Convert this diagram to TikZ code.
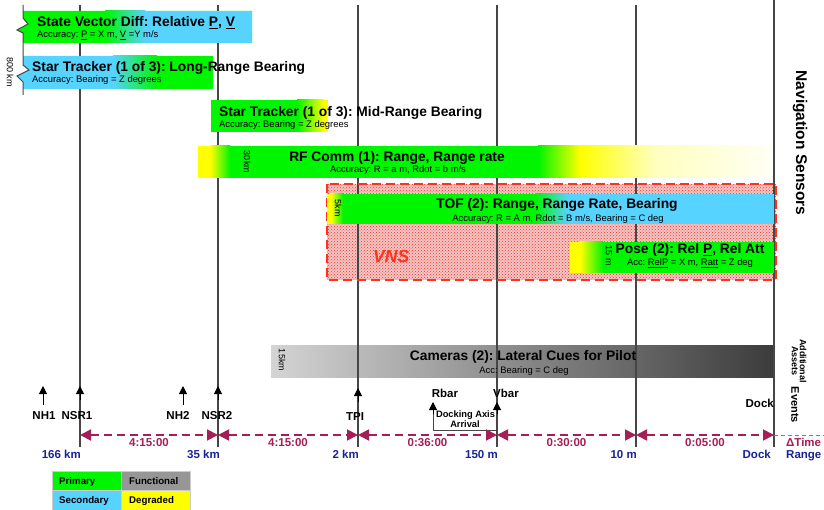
\documentclass[tikz,border=0pt]{standalone}
\usepackage{fontspec}
\setmainfont{Liberation Sans}
\usetikzlibrary{arrows.meta,patterns}
\definecolor{pgreen}{RGB}{0,245,0}
\definecolor{sblue}{RGB}{87,211,255}
\definecolor{dyel}{RGB}{255,255,0}
\definecolor{fgray}{RGB}{150,150,150}
\definecolor{tlmaroon}{RGB}{165,30,85}
\definecolor{rblue}{RGB}{25,35,150}
\definecolor{vnsred}{RGB}{255,50,30}
\definecolor{vnsbg}{RGB}{242,198,198}
\definecolor{vline}{RGB}{70,70,70}
\definecolor{camL}{RGB}{212,212,212}
\definecolor{camR}{RGB}{60,60,60}
\newcommand\fsz[1]{\fontsize{#1}{#1}\selectfont}
\frenchspacing
\tikzset{
 ttl/.style={font=\fsz{13.8}\bfseries, inner sep=0pt},
 acc/.style={font=\fsz{9.4}, inner sep=0pt},
 rotlbl/.style={font=\fsz{9}, inner sep=0pt, rotate=-90},
 evlbl/.style={font=\fsz{11.5}\bfseries, inner sep=0pt, anchor=base},
 timlbl/.style={font=\fsz{11.5}\bfseries, text=tlmaroon, inner sep=0pt, anchor=base},
 rnglbl/.style={font=\fsz{11.5}\bfseries, text=rblue, inner sep=0pt, anchor=base east},
 vl/.style={draw=vline, line width=1.1pt},
 tline/.style={draw=tlmaroon, line width=1.8pt, dash pattern=on 8pt off 5pt, {Triangle[width=11pt,length=11pt]}-{Triangle[width=11pt,length=11pt]}},
 evarrow/.style={draw=black, line width=1pt, -{Triangle[width=8pt,length=8pt]}},
 legcell/.style={draw=gray!40, line width=0.6pt},
 legt/.style={font=\fsz{9.7}\bfseries, inner sep=0pt, anchor=base west},
}
\begin{document}
\begin{tikzpicture}[x=1pt,y=-1pt]
\useasboundingbox (0,0) rectangle (824,510);
\fill[white] (0,0) rectangle (824,510);

% VNS region background
\fill[vnsbg] (327,184) rectangle (776,280);
\fill[pattern=crosshatch dots, pattern color=vnsred] (327,184) rectangle (776,280);

% Cameras bar (under the lines)
\shade[left color=camL, right color=camR] (271,345) rectangle (773,377);

% vertical event lines
\foreach \n/\x in {1/80,2/218,3/358,4/497,5/636}{
  \coordinate (top\n) at (\x,5);
  \coordinate (bot\n) at (\x,447);
  \draw[vl] (top\n) -- (bot\n);
}
\coordinate (top6) at (774,0);
\coordinate (bot6) at (774,447);
\draw[vl] (top6) -- (bot6);

% Bar 1: State Vector Diff
\fill[pgreen] (23,11) -- (252,11) -- (252,43) -- (23,43) -- (23,33) -- (17,30) -- (28,24) -- (23,18) -- cycle;
\shade[left color=pgreen, right color=sblue] (105,11) rectangle (145,43);
\fill[sblue] (145,11) rectangle (252,43);
\node[ttl, anchor=base west] (sv) at (37,27) {State Vector Diff: Relative \underline{P}, \underline{V}};
\node[acc, anchor=base west] (sva) at (37,37.5) {Accuracy: \underline{P} = X m, \underline{V} =Y m/s};

% Bar 2: Star Tracker long range
\fill[sblue] (23,56) -- (213,56) -- (213,89) -- (23,89) -- (23,82) -- (17,76) -- (29,70) -- (23,65) -- cycle;
\shade[left color=sblue, right color=pgreen] (113,56) rectangle (157,89);
\fill[pgreen] (157,56) rectangle (213,89);
\node[ttl, anchor=base west] (stl) at (32,72) {Star Tracker (1 of 3): Long-Range Bearing};
\node[acc, anchor=base west] (stla) at (32,82.5) {Accuracy: Bearing = Z degrees};
\node[rotlbl] (km800) at (10,72) {800 km};

% left bracket with breaks
\draw[vl, line width=1pt] (23,5) -- (23,18) -- (28,24) -- (17,30) -- (23,33) -- (23,65) -- (29,70) -- (17,76) -- (23,82) -- (23,95);

% Bar 3: Star Tracker mid range
\fill[pgreen] (211,100) rectangle (297,132);
\shade[left color=pgreen, right color=dyel] (297,100) rectangle (324,132);
\fill[dyel] (324,100) rectangle (328,132);
\node[ttl, anchor=base west] (stm) at (219,117) {Star Tracker (1 of 3): Mid-Range Bearing};
\node[acc, anchor=base west] (stma) at (219,127.5) {Accuracy: Bearing = Z degrees};

% Bar 4: RF Comm
\fill[dyel] (198,146) rectangle (210,178);
\shade[left color=dyel, right color=pgreen] (210,146) rectangle (230,178);
\fill[pgreen] (230,146) rectangle (538,178);
\shade[left color=pgreen, right color=dyel] (538,146) rectangle (580,178);
\shade[left color=dyel, right color=dyel!25] (580,146) rectangle (655,178);
\shade[left color=dyel!25, right color=dyel!4] (655,146) rectangle (772,178);
\node[ttl, anchor=base] (rf) at (397,162) {RF Comm (1): Range, Range rate};
\node[acc, anchor=base] (rfa) at (398,173) {Accuracy: R = a m, Rdot = b m/s};
\node[rotlbl] (km30) at (247,162) {30km};

% VNS dashed border
\draw[vnsred, line width=2.6pt, dash pattern=on 9pt off 5pt] (327,184) rectangle (776,280);

% Bar 5: TOF
\fill[dyel] (327,194) rectangle (331,224);
\shade[left color=dyel, right color=pgreen] (331,194) rectangle (343,224);
\fill[pgreen] (343,194) rectangle (535,224);
\shade[left color=pgreen, right color=sblue] (535,194) rectangle (568,224);
\fill[sblue] (568,194) rectangle (774,224);
\node[ttl, anchor=base] (tof) at (557,209) {TOF (2): Range, Range Rate, Bearing};
\node[acc, anchor=base] (tofa) at (558,222) {Accuracy: R = A m, Rdot = B m/s, Bearing = C deg};
\node[rotlbl] (km5) at (338,208) {5km};

% Bar 6: Pose
\fill[dyel] (570,242) rectangle (580,273);
\shade[left color=dyel, right color=pgreen] (580,242) rectangle (603,273);
\fill[pgreen] (603,242) rectangle (774,273);
\node[ttl, anchor=base] (pose) at (690,254) {Pose (2): Rel \underline{P}, Rel Att};
\node[acc, anchor=base] (posea) at (690,266) {Acc: \underline{RelP} = X m, \underline{Ratt} = Z deg};
\node[rotlbl] (m15) at (609,256) {15 m};

% VNS label
\node[font=\fsz{17.5}\bfseries\itshape, text=vnsred, inner sep=0pt, anchor=base west] (vns) at (373,263) {VNS};

% Cameras text
\node[ttl, anchor=base] (cam) at (523,360) {Cameras (2): Lateral Cues for Pilot};
\node[acc, anchor=base] (cama) at (524,373) {Acc: Bearing = C deg};
\node[rotlbl] (km15) at (282,360) {15km};

% right side labels
\node[font=\fsz{15.5}\bfseries, rotate=-90, inner sep=0pt] (nav) at (800,143) {Navigation Sensors};
\node[font=\fsz{9}\bfseries, rotate=-90, inner sep=0pt, align=center] (addl) at (799,361) {Additional\\[-1pt]Assets};
\node[font=\fsz{11}\bfseries, rotate=-90, inner sep=0pt] (evts) at (795,405) {Events};

% event arrows
\coordinate (nh1b) at (43,405); \coordinate (nh1t) at (43,386);
\coordinate (nsr1b) at (80,400); \coordinate (nsr1t) at (80,386);
\coordinate (nh2b) at (183,405); \coordinate (nh2t) at (183,386);
\coordinate (nsr2b) at (218,400); \coordinate (nsr2t) at (218,386);
\coordinate (tpib) at (358,402); \coordinate (tpit) at (358,388);
\coordinate (vbb) at (497,414); \coordinate (vbt) at (497,402);
\coordinate (rbt) at (433,402); \coordinate (dock) at (497,430);
\draw[evarrow] (nh1b) -- (nh1t);
\draw[evarrow] (nsr1b) -- (nsr1t);
\draw[evarrow] (nh2b) -- (nh2t);
\draw[evarrow] (nsr2b) -- (nsr2t);
\draw[evarrow] (tpib) -- (tpit);
\draw[evarrow] (vbb) -- (vbt);
\draw[draw=vline, line width=1pt] (dock) -| ([yshift=-1pt]rbt);
\draw[evarrow] ([yshift=-12pt]rbt) -- (rbt);

\node[evlbl] (lnh1) at (44,419) {NH1};
\node[evlbl] (lnsr1) at (77,419) {NSR1};
\node[evlbl] (lnh2) at (178,419) {NH2};
\node[evlbl] (lnsr2) at (217,419) {NSR2};
\node[evlbl] (ltpi) at (355,420) {TPI};
\node[evlbl] (lrbar) at (445,397) {Rbar};
\node[evlbl] (lvbar) at (506,397) {Vbar};
\node[font=\fsz{9.3}\bfseries, inner sep=0pt, anchor=base] (dax) at (465.5,417) {Docking Axis};
\node[font=\fsz{9.3}\bfseries, inner sep=0pt, anchor=base] (arr) at (465,427) {Arrival};
\node[evlbl, anchor=base east] (ldock) at (774,407) {Dock};

% timeline
\coordinate (tl1) at (80,435);
\coordinate (tl2) at (218,435);
\coordinate (tl3) at (358,435);
\coordinate (tl4) at (497,435);
\coordinate (tl5) at (636,435);
\coordinate (tl6) at (774,435);
\coordinate (tlend) at (824,435);
\draw[tline] (tl1) -- (tl2);
\draw[tline] (tl2) -- (tl3);
\draw[tline] (tl3) -- (tl4);
\draw[tline] (tl4) -- (tl5);
\draw[tline] (tl5) -- (tl6);
\draw[gray, line width=1pt, dash pattern=on 4pt off 3pt] (tl6) -- (tlend);

\node[timlbl] (d1) at (149,446) {4:15:00};
\node[timlbl] (d2) at (288,446) {4:15:00};
\node[timlbl] (d3) at (427.5,446) {0:36:00};
\node[timlbl] (d4) at (566.5,446) {0:30:00};
\node[timlbl] (d5) at (705,446) {0:05:00};
\node[timlbl, anchor=base west] (dt) at (786,446) {ΔTime};

\node[rnglbl] (r1) at (81,458) {166 km};
\node[rnglbl] (r2) at (220,458) {35 km};
\node[rnglbl] (r3) at (359,458) {2 km};
\node[rnglbl] (r4) at (498,458) {150 m};
\node[rnglbl] (r5) at (637,458) {10 m};
\node[rnglbl] (r6) at (771,458) {Dock};
\node[rnglbl, anchor=base west] (r7) at (786,458) {Range};

% legend
\fill[pgreen] (52,471) rectangle (121,490);
\fill[fgray] (121,471) rectangle (190,490);
\fill[sblue] (52,490) rectangle (121,510);
\fill[dyel] (121,490) rectangle (190,510);
\draw[legcell] (52,471) rectangle (121,490);
\draw[legcell] (121,471) rectangle (190,490);
\draw[legcell] (52,490) rectangle (121,510);
\draw[legcell] (121,490) rectangle (190,510);
\node[legt] (lp) at (59,484.5) {Primary};
\node[legt] (lf) at (129,484.5) {Functional};
\node[legt] (ls) at (59,503.5) {Secondary};
\node[legt] (ld) at (129,503.5) {Degraded};
\end{tikzpicture}
\end{document}
